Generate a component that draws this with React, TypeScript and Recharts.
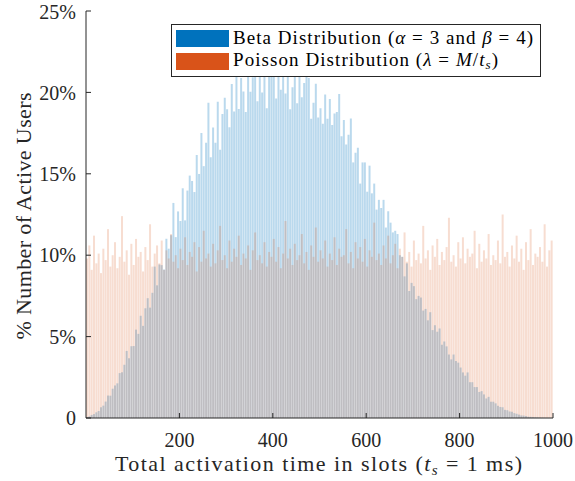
import React from "react";
import { BarChart, Bar, XAxis, YAxis, Legend, Label } from "recharts";

// x axis: total activation time in slots, binned every 5 slots
const binWidth = 5;
const slotTicks = [200, 400, 600, 800, 1000];
const percentTicks = [0, 5, 10, 15, 20, 25];

// % of active users per bin (noisy histogram)
const betaShare = [
  0.04, 0.1, 0.19, 0.24, 0.35, 0.43, 0.66, 0.76, 1.01, 1.38,
  1.37, 1.8, 2.0, 2.13, 2.76, 2.81, 3.27, 4.12, 3.67, 4.41,
  4.42, 5.43, 5.17, 6.28, 5.66, 6.74, 7.36, 6.78, 7.69, 9.3,
  8.15, 9.43, 9.39, 9.12, 11.01, 10.4, 11.23, 13.21, 11.11, 12.69,
  12.1, 14.11, 12.14, 13.97, 14.89, 14.56, 13.88, 16.15, 14.99, 17.51,
  15.47, 16.9, 19.36, 16.01, 17.84, 16.9, 19.43, 16.47, 18.68, 19.67,
  18.97, 17.86, 20.52, 18.82, 22.3, 18.98, 20.89, 20.05, 18.79, 21.94,
  20.04, 20.93, 23.87, 19.46, 21.59, 20.0, 22.73, 19.03, 21.31, 22.15,
  21.1, 19.63, 22.27, 20.17, 23.21, 19.94, 21.3, 18.97, 20.32, 22.06,
  19.33, 21.02, 19.7, 20.57, 21.04, 20.89, 18.38, 19.37, 20.53, 18.46,
  19.02, 18.07, 19.87, 18.38, 19.59, 18.0, 18.7, 18.8, 19.9, 17.3,
  18.3, 16.8, 17.4, 18.4, 15.7, 16.3, 16.6, 14.4, 15.7, 15.7,
  13.9, 15.5, 13.8, 14.4, 12.8, 13.4, 12.9, 13.4, 11.7, 12.7,
  12.0, 11.4, 11.5, 11.3, 10.0, 9.9, 8.7, 9.5, 7.8, 8.3,
  8.1, 7.3, 7.5, 7.4, 6.6, 6.7, 6.0, 6.5, 5.4, 5.7,
  5.3, 5.5, 4.5, 4.7, 4.4, 3.9, 3.6, 3.9, 3.5, 3.4,
  3.1, 2.8, 2.6, 2.8, 2.2, 2.2, 1.9, 1.9, 1.6, 1.65,
  1.45, 1.2, 1.3, 1.0, 1.0, 0.9, 0.75, 0.68, 0.66, 0.5,
  0.48, 0.4, 0.38, 0.3, 0.26, 0.21, 0.16, 0.15, 0.12, 0.08,
  0.07, 0.05, 0.04, 0.03, 0.02, 0.01, 0.005, 0, 0, 0,
];

const poissonShare = [
  9.8, 10.6, 9.1, 11.2, 9.5, 10.1, 8.9, 10.4, 9.7, 11.6,
  9.3, 10.0, 10.8, 9.2, 9.9, 12.4, 9.6, 10.3, 8.8, 10.7,
  9.4, 11.0, 9.9, 10.2, 9.0, 10.5, 9.7, 11.9, 9.3, 10.1,
  10.6, 9.5, 10.9, 9.1, 10.3, 9.8, 11.3, 9.6, 10.0, 9.2,
  10.4, 9.7, 11.1, 9.4, 10.2, 9.9, 10.8, 9.0, 10.5, 9.6,
  11.5, 9.8, 10.1, 9.3, 10.7, 9.5, 10.3, 11.8, 9.7, 10.0,
  9.2, 10.9, 9.6, 10.4, 9.9, 11.2, 9.4, 10.1, 9.8, 10.6,
  9.1, 10.3, 11.4, 9.7, 10.0, 9.5, 10.8, 9.3, 10.2, 9.9,
  11.0, 9.6, 10.5, 9.2, 10.1, 12.1, 9.8, 10.4, 9.4, 10.7,
  9.7, 10.0, 11.3, 9.5, 10.2, 9.1, 10.6, 9.9, 11.7, 9.6,
  10.3, 9.8, 10.9, 9.3, 10.1, 9.7, 11.1, 9.4, 10.4, 9.9,
  10.0, 11.6, 9.5, 10.2, 9.2, 10.8, 9.8, 10.5, 9.6, 11.0,
  9.3, 10.3, 9.9, 12.0, 9.7, 10.1, 9.4, 10.6, 9.8, 11.2,
  9.5, 10.0, 10.7, 9.2, 10.4, 9.9, 11.4, 9.6, 10.2, 9.3,
  10.9, 9.7, 10.1, 9.5, 11.8, 9.8, 10.3, 9.1, 10.6, 9.9,
  11.0, 9.4, 10.2, 9.7, 10.5, 12.3, 9.6, 10.0, 9.3, 10.8,
  9.8, 11.1, 9.5, 10.4, 9.9, 10.1, 11.5, 9.2, 10.7, 9.6,
  10.3, 9.8, 11.3, 9.4, 10.0, 9.7, 10.9, 9.5, 12.5, 9.9,
  10.2, 9.3, 10.6, 9.8, 11.2, 9.6, 10.4, 9.1, 10.8, 9.7,
  11.6, 9.4, 10.1, 9.9, 10.5, 9.6, 11.9, 9.3, 10.3, 10.9,
];

const data = betaShare.map((beta, i) => ({
  slot: i * binWidth + binWidth / 2,
  beta,
  poisson: poissonShare[i],
}));

const axisColor = "#262626";
const serif = "Liberation Serif";
const blue = "#0072BD";
const orange = "#D95319";

const emptyTick = () => <g />;

function LegendBox() {
  return (
    <svg width={370} height={53} style={{ display: "block" }}>
      <rect x={0.5} y={0.5} width={369} height={52} fill="#fff" stroke={axisColor} />
      <rect x={5} y={6} width={53} height={17} fill={blue} />
      <rect x={5} y={29} width={53} height={17} fill={orange} />
      <text x={62} y={19.5} style={{ fontFamily: serif }} fontSize={19} fill="#000" textLength={300} lengthAdjust="spacing">
        {"Beta Distribution ("}
        <tspan fontStyle="italic">α</tspan>
        {" = 3 and "}
        <tspan fontStyle="italic">β</tspan>
        {" = 4)"}
      </text>
      <text x={62} y={42} style={{ fontFamily: serif }} fontSize={19} fill="#000" textLength={265} lengthAdjust="spacing">
        {"Poisson Distribution ("}
        <tspan fontStyle="italic">λ</tspan>
        {" = "}
        <tspan fontStyle="italic">M</tspan>
        {"/"}
        <tspan fontStyle="italic">t</tspan>
        <tspan fontStyle="italic" fontSize={13} dy={3}>s</tspan>
        <tspan dy={-3}>)</tspan>
      </text>
    </svg>
  );
}

export default function App() {
  return (
    <div style={{ position: "absolute", left: 0, top: 0, width: 575, height: 481, background: "#fff" }}>
      <BarChart
        width={575}
        height={481}
        data={data}
        margin={{ top: 11, right: 22, bottom: 0, left: 26 }}
        barCategoryGap={0}
      >
        <XAxis
          xAxisId="bottom"
          type="number"
          dataKey="slot"
          domain={[0, 1000]}
          ticks={slotTicks}
          height={63}
          tickSize={-5}
          tickMargin={20}
          axisLine={{ stroke: axisColor }}
          tickLine={{ stroke: axisColor }}
          tick={{ fill: axisColor, fontSize: 20, fontFamily: serif }}
        >
          <Label
            content={() => (
              <text
                x={318.5}
                y={471}
                textAnchor="middle"
                style={{ fontFamily: serif }}
                fontSize={22}
                fill={axisColor}
                textLength={407}
                lengthAdjust="spacing"
              >
                {"Total activation time in slots ("}
                <tspan fontStyle="italic">t</tspan>
                <tspan fontStyle="italic" fontSize={15} dy={4}>s</tspan>
                <tspan dy={-4}>{" = 1 ms)"}</tspan>
              </text>
            )}
          />
        </XAxis>
        <XAxis
          xAxisId="top"
          orientation="top"
          type="number"
          dataKey="slot"
          domain={[0, 1000]}
          ticks={slotTicks}
          height={0}
          tickSize={-5}
          axisLine={{ stroke: axisColor }}
          tickLine={{ stroke: axisColor }}
          tick={emptyTick}
        />
        <YAxis
          yAxisId="left"
          domain={[0, 25]}
          ticks={percentTicks}
          width={60}
          tickSize={-5}
          tickMargin={15}
          tickFormatter={(v: number) => (v === 0 ? "0" : `${v}%`)}
          axisLine={{ stroke: axisColor }}
          tickLine={{ stroke: axisColor }}
          tick={{ fill: axisColor, fontSize: 20, fontFamily: serif }}
        >
          <Label
            content={() => (
              <text
                x={31}
                y={216}
                textAnchor="middle"
                transform="rotate(-90, 31, 216)"
                style={{ fontFamily: serif }}
                fontSize={22}
                fill={axisColor}
                textLength={247}
                lengthAdjust="spacing"
              >
                % Number of Active Users
              </text>
            )}
          />
        </YAxis>
        <YAxis
          yAxisId="right"
          orientation="right"
          domain={[0, 25]}
          ticks={percentTicks}
          width={0}
          tickSize={-5}
          axisLine={{ stroke: axisColor }}
          tickLine={{ stroke: axisColor }}
          tick={emptyTick}
        />
        <Legend
          layout="vertical"
          align="center"
          verticalAlign="middle"
          wrapperStyle={{ position: "absolute", left: 171, top: 24, width: 370, height: 53 }}
          content={() => <LegendBox />}
        />
        <Bar
          xAxisId="bottom"
          yAxisId="left"
          dataKey="beta"
          name="Beta Distribution"
          fill={blue}
          fillOpacity={0.27}
          isAnimationActive={false}
        />
        <Bar
          xAxisId="top"
          yAxisId="left"
          dataKey="poisson"
          name="Poisson Distribution"
          fill={orange}
          fillOpacity={0.2}
          isAnimationActive={false}
        />
      </BarChart>
    </div>
  );
}
